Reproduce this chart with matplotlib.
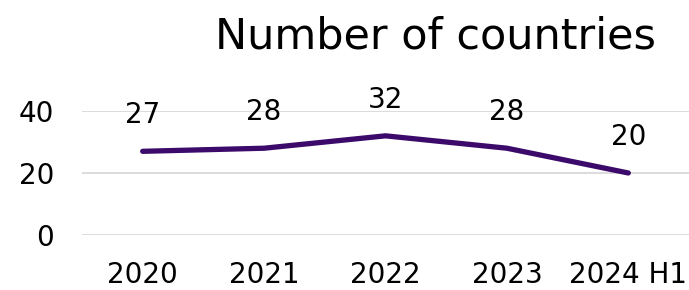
import matplotlib
matplotlib.use("Agg")
import matplotlib.pyplot as plt

categories = ["2020", "2021", "2022", "2023", "2024 H1"]
values = [27, 28, 32, 28, 20]
yticks = [0, 20, 40]
title = "Number of countries"

plt.rcParams['font.family'] = ['DejaVu Sans']

fig = plt.figure(figsize=(6.89, 2.9), dpi=100)
ax = fig.add_axes([0.119, 0.19, 0.881, 0.427])
x = list(range(len(categories)))
ax.plot(x, values, color="#3b0a6b", lw=3.8, solid_capstyle="round", zorder=3)
for xi, v in zip(x, values):
    ax.annotate(str(v), (xi, v), xytext=(0, 16), textcoords="offset points",
                ha="center", va="bottom", fontsize=20, color="black")
ax.set_xlim(-0.5, len(categories) - 0.5)
ax.set_ylim(0, 40)
ax.set_yticks(yticks)
ax.set_xticks(x)
ax.set_xticklabels(categories)
ax.yaxis.grid(True, color="#d9d9d9", lw=1.3)
ax.set_axisbelow(True)
for s in ax.spines.values():
    s.set_visible(False)
ax.tick_params(length=0, labelsize=20, colors="black")
ax.tick_params(axis="x", pad=19)
ax.tick_params(axis="y", pad=20)
fig.text(0.632, 0.875, title, ha="center", va="center", fontsize=31)
fig.savefig("out.png", dpi=100)
